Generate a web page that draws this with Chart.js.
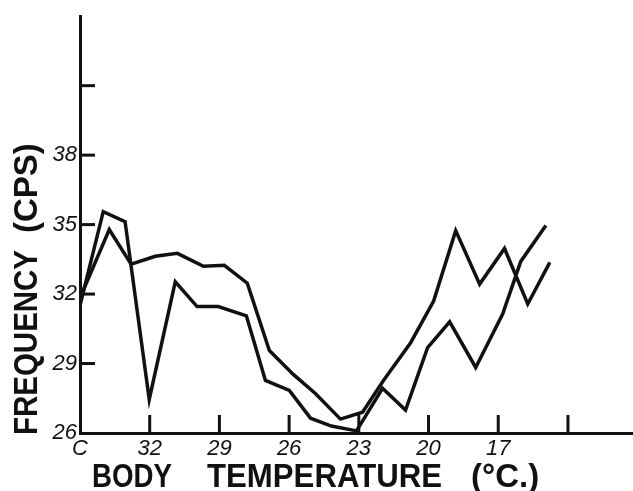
<!DOCTYPE html>
<html>
<head>
<meta charset="utf-8">
<title>Frequency vs Body Temperature</title>
<script src="https://cdn.jsdelivr.net/npm/chart.js@4/dist/chart.umd.min.js"></script>
<style>
  html, body { margin: 0; padding: 0; background: #fff; }
  #wrap { width: 633px; height: 491px; }
</style>
</head>
<body>
<div id="wrap"><canvas id="chart" width="633" height="491"></canvas></div>
<script>
// Values (x = body temperature in deg C, y = frequency in cps)
const tempA = [35.0, 34.0, 33.06, 32.02, 30.9, 29.96, 29.05, 27.84, 27.02, 25.99, 25.08, 24.18, 23.1, 21.98, 20.99, 20.04, 19.09, 17.97, 16.81, 16.03, 14.95];
const freqA = [31.5, 35.56, 35.13, 27.45, 32.53, 31.46, 31.46, 31.06, 28.27, 27.84, 26.64, 26.3, 26.09, 27.93, 26.99, 29.69, 30.8, 28.83, 31.14, 33.41, 34.96];

const tempB = [35.0, 33.74, 32.8, 31.76, 30.81, 29.69, 28.79, 27.8, 26.85, 25.82, 24.87, 23.79, 22.84, 21.94, 20.77, 19.78, 18.83, 17.8, 16.73, 15.73, 14.78];
const freqB = [31.83, 34.79, 33.29, 33.63, 33.76, 33.2, 33.24, 32.47, 29.56, 28.53, 27.71, 26.6, 26.9, 28.27, 29.9, 31.7, 34.74, 32.43, 33.97, 31.57, 33.37];

// Tick values and their labels
const xTickValues = [35, 32, 29, 26, 23, 20, 17, 14];
const xTickLabels = ["C", "32", "29", "26", "23", "20", "17", ""];
const yTickValues = [26, 29, 32, 35, 38, 41];
const yTickLabels = ["26", "29", "32", "35", "38", ""];

const ink = "#111";
const toPoints = (xs, ys) => xs.map((x, i) => ({ x: x, y: ys[i] }));

// Draws inward tick marks and the hand-lettered axis titles
const axisDecor = {
  id: "axisDecor",
  afterDraw(chart) {
    const ctx = chart.ctx;
    const xs = chart.scales.x;
    const ys = chart.scales.y;
    const area = chart.chartArea;
    ctx.save();
    ctx.strokeStyle = ink;
    ctx.lineWidth = 3;
    xTickValues.forEach((v) => {
      if (v === 35) return;
      const px = xs.getPixelForValue(v);
      ctx.beginPath();
      ctx.moveTo(px, area.bottom);
      ctx.lineTo(px, area.bottom - 18);
      ctx.stroke();
    });
    yTickValues.forEach((v) => {
      if (v === 26) return;
      const py = ys.getPixelForValue(v);
      ctx.beginPath();
      ctx.moveTo(area.left, py);
      ctx.lineTo(area.left + 15, py);
      ctx.stroke();
    });

    ctx.fillStyle = ink;
    ctx.font = 'bold 33px "Liberation Sans", Arial, sans-serif';
    ctx.textBaseline = "alphabetic";
    ctx.textAlign = "left";
    // x title
    ctx.fillText("BODY", 92, 487, 80);
    ctx.fillText("TEMPERATURE", 207, 487, 235);
    ctx.fillText("(°C.)", 471, 487, 77);
    // y title
    ctx.translate(37, 435);
    ctx.rotate(-Math.PI / 2);
    ctx.fillText("FREQUENCY", 0, 0, 185);
    ctx.fillText("(CPS)", 202, 0, 110);
    ctx.restore();
  }
};

new Chart(document.getElementById("chart"), {
  type: "scatter",
  data: {
    datasets: [
      { data: toPoints(tempA, freqA), showLine: true, borderColor: ink, borderWidth: 3.5, pointRadius: 0, tension: 0, fill: false },
      { data: toPoints(tempB, freqB), showLine: true, borderColor: ink, borderWidth: 3.5, pointRadius: 0, tension: 0, fill: false }
    ]
  },
  options: {
    responsive: false,
    animation: false,
    layout: { padding: { top: 12, right: 0, bottom: 0, left: 0 } },
    plugins: { legend: { display: false }, tooltip: { enabled: false } },
    scales: {
      x: {
        type: "linear",
        reverse: true,
        min: 11.2,
        max: 35,
        grid: { display: false, drawTicks: false, tickLength: 0 },
        border: { display: true, color: ink, width: 3 },
        afterBuildTicks: (s) => { s.ticks = xTickValues.map((v) => ({ value: v })); },
        afterFit: (s) => { s.height = 58; },
        ticks: {
          autoSkip: false,
          maxRotation: 0,
          padding: 3,
          color: ink,
          font: { family: '"Liberation Sans", Arial, sans-serif', size: 22, style: "italic" },
          callback: (v) => xTickLabels[xTickValues.indexOf(v)]
        }
      },
      y: {
        type: "linear",
        min: 26,
        max: 44,
        grid: { display: false, drawTicks: false, tickLength: 0 },
        border: { display: true, color: ink, width: 3 },
        afterBuildTicks: (s) => { s.ticks = yTickValues.map((v) => ({ value: v })); },
        afterFit: (s) => { s.width = 80; },
        ticks: {
          padding: 3,
          color: ink,
          font: { family: '"Liberation Sans", Arial, sans-serif', size: 22, style: "italic" },
          callback: (v) => yTickLabels[yTickValues.indexOf(v)]
        }
      }
    }
  },
  plugins: [axisDecor]
});
</script>
</body>
</html>
